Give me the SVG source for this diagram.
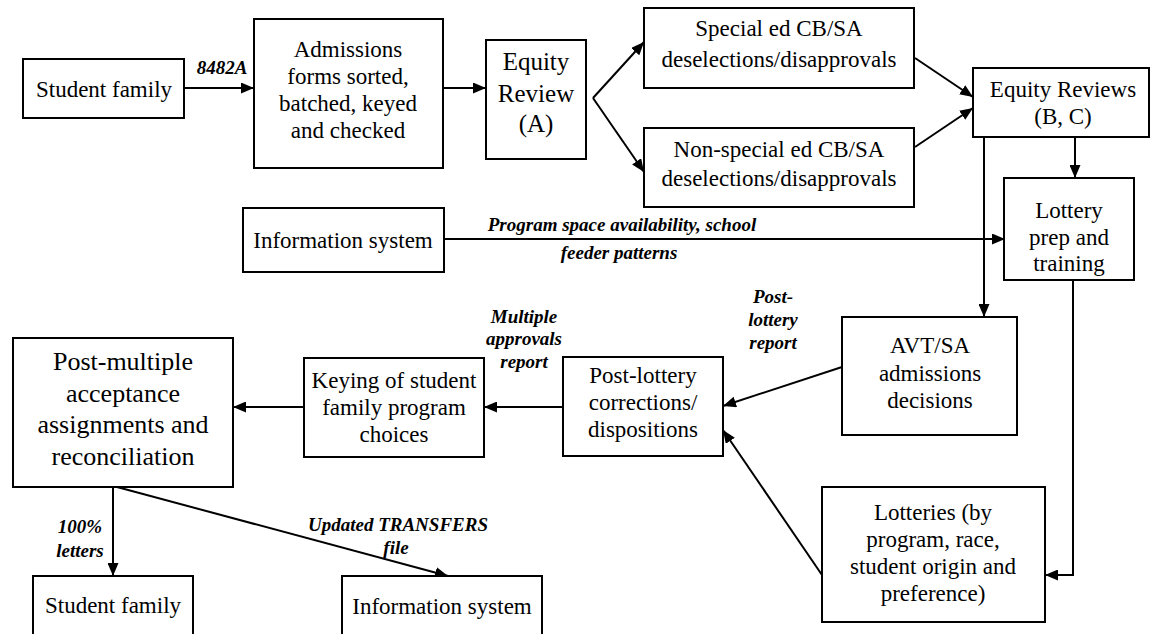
<svg xmlns="http://www.w3.org/2000/svg" width="1150" height="634" viewBox="0 0 1150 634">
<style>
.box{fill:#fff;stroke:#000;stroke-width:2}
.t{font-family:'Liberation Serif','Times New Roman','DejaVu Serif',serif;font-size:23px;fill:#000;text-anchor:middle}
.lbl{font-family:'Liberation Serif','Times New Roman','DejaVu Serif',serif;font-size:19px;font-style:italic;font-weight:bold;fill:#000;text-anchor:middle}
.c{fill:none;stroke:#000;stroke-width:2}
</style>
<defs>
<marker id="ah" markerUnits="userSpaceOnUse" markerWidth="13" markerHeight="11" refX="13" refY="5.5" orient="auto">
<path d="M0,0 L13,5.5 L0,11 z" fill="#000"/>
</marker>
</defs>
<rect width="1150" height="634" fill="#fff"/>

<g id="connectors">
<line class="c" x1="184" y1="88" x2="254" y2="88" marker-end="url(#ah)"/>
<text class="lbl" x="222" y="74">8482A</text>
<line class="c" x1="443" y1="88" x2="486" y2="88" marker-end="url(#ah)"/>
<line class="c" x1="593" y1="98" x2="644" y2="42" marker-end="url(#ah)"/>
<line class="c" x1="593" y1="98" x2="644" y2="172" marker-end="url(#ah)"/>
<line class="c" x1="915" y1="58" x2="973" y2="97" marker-end="url(#ah)"/>
<line class="c" x1="915" y1="147" x2="973" y2="108" marker-end="url(#ah)"/>
<line class="c" x1="1075" y1="137" x2="1075" y2="178" marker-end="url(#ah)"/>
<line class="c" x1="984" y1="137" x2="984" y2="317" marker-end="url(#ah)"/>
<line class="c" x1="444" y1="239" x2="1005" y2="239" marker-end="url(#ah)"/>
<text class="lbl" x="622" y="231">Program space availability, school</text>
<text class="lbl" x="619" y="259">feeder patterns</text>
<polyline class="c" points="1073,280 1073,575 1045,575" marker-end="url(#ah)"/>
<line class="c" x1="842" y1="367" x2="723" y2="406" marker-end="url(#ah)"/>
<text class="lbl" x="773" y="303">Post-</text>
<text class="lbl" x="773" y="326">lottery</text>
<text class="lbl" x="773" y="349">report</text>
<line class="c" x1="822" y1="575" x2="723" y2="430" marker-end="url(#ah)"/>
<line class="c" x1="563" y1="407" x2="484" y2="407" marker-end="url(#ah)"/>
<text class="lbl" x="524" y="323">Multiple</text>
<text class="lbl" x="524" y="345">approvals</text>
<text class="lbl" x="524" y="368">report</text>
<line class="c" x1="304" y1="407" x2="233" y2="407" marker-end="url(#ah)"/>
<line class="c" x1="113" y1="487" x2="113" y2="576" marker-end="url(#ah)"/>
<text class="lbl" x="80" y="533">100%</text>
<text class="lbl" x="80" y="557">letters</text>
<line class="c" x1="117" y1="487" x2="448" y2="576" marker-end="url(#ah)"/>
<text class="lbl" x="398" y="531">Updated TRANSFERS</text>
<text class="lbl" x="396" y="554">file</text>
</g>

<g id="student-family-top">
<rect class="box" x="23" y="59" width="161" height="59"/>
<text class="t" x="104" y="97">Student family</text>
</g>
<g id="admissions">
<rect class="box" x="254" y="19" width="189" height="149"/>
<text class="t" x="348" y="57">Admissions</text>
<text class="t" x="348" y="84">forms sorted,</text>
<text class="t" x="348" y="111">batched, keyed</text>
<text class="t" x="348" y="138">and checked</text>
</g>
<g id="equity-a">
<rect class="box" x="486" y="40" width="100" height="119"/>
<text class="t" x="536" y="70" style="font-size:25px">Equity</text>
<text class="t" x="536" y="102" style="font-size:25px">Review</text>
<text class="t" x="536" y="132" style="font-size:25px">(A)</text>
</g>
<g id="special-ed">
<rect class="box" x="644" y="8" width="270" height="80"/>
<text class="t" x="779" y="36">Special ed CB/SA</text>
<text class="t" x="779" y="67">deselections/disapprovals</text>
</g>
<g id="non-special-ed">
<rect class="box" x="644" y="128" width="270" height="79"/>
<text class="t" x="779" y="157">Non-special ed CB/SA</text>
<text class="t" x="779" y="186">deselections/disapprovals</text>
</g>
<g id="equity-bc">
<rect class="box" x="973" y="68" width="176" height="69"/>
<text class="t" x="1063" y="97">Equity Reviews</text>
<text class="t" x="1063" y="124">(B, C)</text>
</g>
<g id="lottery-prep">
<rect class="box" x="1004" y="178" width="130" height="102"/>
<text class="t" x="1069" y="218">Lottery</text>
<text class="t" x="1069" y="245">prep and</text>
<text class="t" x="1069" y="271">training</text>
</g>
<g id="info-system-mid">
<rect class="box" x="243" y="208" width="201" height="64"/>
<text class="t" x="343" y="248">Information system</text>
</g>
<g id="avt-sa">
<rect class="box" x="842" y="317" width="175" height="118"/>
<text class="t" x="930" y="353">AVT/SA</text>
<text class="t" x="930" y="381">admissions</text>
<text class="t" x="930" y="408">decisions</text>
</g>
<g id="post-lottery">
<rect class="box" x="563" y="357" width="160" height="99"/>
<text class="t" x="643" y="383">Post-lottery</text>
<text class="t" x="643" y="410">corrections/</text>
<text class="t" x="643" y="437">dispositions</text>
</g>
<g id="keying">
<rect class="box" x="304" y="358" width="180" height="99"/>
<text class="t" x="394" y="388">Keying of student</text>
<text class="t" x="394" y="415">family program</text>
<text class="t" x="394" y="442">choices</text>
</g>
<g id="post-multiple">
<rect class="box" x="13" y="338" width="220" height="149"/>
<text class="t" x="123" y="370" style="font-size:26px">Post-multiple</text>
<text class="t" x="123" y="402" style="font-size:26px">acceptance</text>
<text class="t" x="123" y="433" style="font-size:26px">assignments and</text>
<text class="t" x="123" y="465" style="font-size:26px">reconciliation</text>
</g>
<g id="lotteries">
<rect class="box" x="822" y="487" width="223" height="135"/>
<text class="t" x="933" y="520">Lotteries (by</text>
<text class="t" x="933" y="547">program, race,</text>
<text class="t" x="933" y="574">student origin and</text>
<text class="t" x="933" y="601">preference)</text>
</g>
<g id="student-family-bottom">
<rect class="box" x="33" y="576" width="160" height="70"/>
<text class="t" x="113" y="613">Student family</text>
</g>
<g id="info-system-bottom">
<rect class="box" x="342" y="576" width="200" height="70"/>
<text class="t" x="442" y="614">Information system</text>
</g>
</svg>
